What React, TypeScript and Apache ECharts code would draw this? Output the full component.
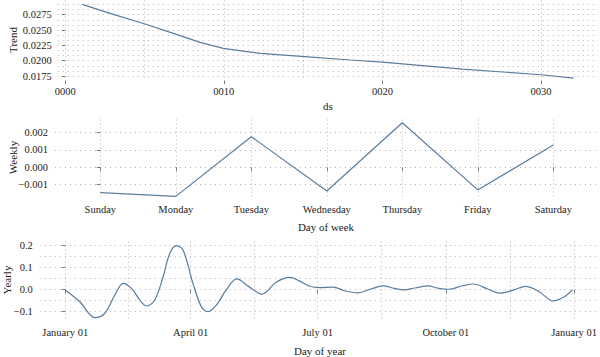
import { useEffect, useRef } from "react";
import * as echarts from "echarts";

// ---- Trend panel ----
const trendYears = [1.07, 2.82, 5.03, 6.81, 8.5, 9.97, 12.28, 14.9, 17.96, 20.0, 25.05, 30.0, 32.05];
const trendValues = [0.02919, 0.02773, 0.02598, 0.02446, 0.0230, 0.02202, 0.0212, 0.0207, 0.02011, 0.01978, 0.01864, 0.01771, 0.01717];
const trendXTicks = [0, 10, 20, 30];
const trendXMinor = [5, 15, 25];
const trendYTicks = [0.0175, 0.02, 0.0225, 0.025, 0.0275];
const trendYMinor = [0.018333, 0.019167, 0.020833, 0.021667, 0.023333, 0.024167, 0.025833, 0.026667, 0.028333, 0.029167];

// ---- Weekly panel ----
const weekDays = ["Sunday", "Monday", "Tuesday", "Wednesday", "Thursday", "Friday", "Saturday"];
const weeklyValues = [-0.00146, -0.00167, 0.00176, -0.00136, 0.00256, -0.0013, 0.00128];
const weeklyXTicks = [0, 1, 2, 3, 4, 5, 6];
const weeklyYTicks = [-0.001, 0, 0.001, 0.002];

// ---- Yearly panel ----
const yearDays = [0, 10.5, 21.3, 28.4, 35.6, 41.5, 47.5, 53.5, 58.3, 64.2, 70.2, 75, 79.7, 84.5, 91.6, 97.6, 102.4, 108.4, 115.5, 123, 131.7, 141, 151.3, 161, 168, 175, 182, 192, 201, 210, 219, 228, 236, 243, 251.5, 260, 268, 275, 285, 293, 303, 312, 322, 330, 340, 350, 358, 364];
const yearlyValues = [-0.001, -0.055, -0.127, -0.107, -0.024, 0.029, 0.006, -0.047, -0.074, -0.047, 0.059, 0.165, 0.2, 0.18, 0.029, -0.077, -0.1, -0.07, -0.001, 0.049, 0.014, -0.02, 0.034, 0.056, 0.04, 0.017, 0.009, 0.012, -0.006, -0.014, 0.003, 0.017, 0.006, -0.001, 0.009, 0.017, 0.006, 0.002, 0.018, 0.026, 0.003, -0.016, -0.001, 0.015, -0.009, -0.051, -0.032, 0.0];
const yearTickDays = [0, 90, 181, 273, 365];
const yearTickLabels = ["January 01", "April 01", "July 01", "October 01", "January 01"];
const yearMinorDays = [45, 135.5, 227, 319];
const yearlyYTicks = [-0.1, 0, 0.1, 0.2];
const yearlyYMinor = [-0.05, 0.05, 0.15];

const FONT = "'Liberation Serif', 'Times New Roman', serif";
const TEXT = "#222";
const LINE = "#5a7c9c";
const DOT = "#b4b4b4";
const minus = (s: string) => s.replace("-", "\u2212");

function mainAxis(gridIndex: number, min: number, max: number, ticks: number[], formatter: (v: number) => string, vertical: boolean, margin: number) {
  return {
    type: "value",
    gridIndex,
    min,
    max,
    axisLine: { show: false },
    axisTick: { show: true, length: 3.5, customValues: ticks, lineStyle: { color: "#777", width: 1 } },
    axisLabel: { customValues: ticks, formatter, margin, color: TEXT, fontFamily: FONT, fontSize: 10.5 },
    splitLine: { show: true, lineStyle: { color: DOT, width: 1, type: vertical ? [1, 3] : [1, 4] } },
  };
}

function minorAxis(gridIndex: number, min: number, max: number, ticks: number[], vertical: boolean) {
  return {
    type: "value",
    gridIndex,
    min,
    max,
    axisLine: { show: false },
    axisTick: { show: false, customValues: ticks },
    axisLabel: { show: false, customValues: ticks },
    splitLine: { show: true, lineStyle: { color: DOT, width: 1, type: vertical ? [1, 3] : [1, 4] } },
  };
}

function title(text: string, x: number, y: number, rotate: boolean) {
  return {
    type: "text",
    x,
    y,
    rotation: rotate ? Math.PI / 2 : 0,
    style: { text, fill: TEXT, font: `11px ${FONT}`, align: "center", verticalAlign: "middle" },
  };
}

export default function App() {
  const ref = useRef<HTMLDivElement>(null);
  useEffect(() => {
    if (!ref.current) return;
    const chart = echarts.init(ref.current, null, { renderer: "svg" });
    const option = {
      animation: false,
      backgroundColor: "#fff",
      textStyle: { fontFamily: FONT },
      grid: [
        { left: 57.7, top: 0.5, width: 540.3, height: 80 },
        { left: 55, top: 119.5, width: 543.6, height: 79 },
        { left: 39.8, top: 241.5, width: 560.2, height: 80 },
      ],
      xAxis: [
        mainAxis(0, -0.48, 33.6, trendXTicks, (v: number) => String(Math.round(v)).padStart(4, "0"), true, 5),
        minorAxis(0, -0.48, 33.6, trendXMinor, true),
        mainAxis(1, -0.6, 6.6, weeklyXTicks, (v: number) => weekDays[Math.round(v)], true, 5),
        mainAxis(2, -18.25, 382.75, yearTickDays, (v: number) => yearTickLabels[yearTickDays.indexOf(v)] ?? "", true, 5),
        minorAxis(2, -18.25, 382.75, yearMinorDays, true),
      ],
      yAxis: [
        mainAxis(0, 0.01677, 0.02982, trendYTicks, (v: number) => v.toFixed(4), false, 6),
        minorAxis(0, 0.01677, 0.02982, trendYMinor, false),
        mainAxis(1, -0.001793, 0.002747, weeklyYTicks, (v: number) => minus(v.toFixed(3)), false, 7),
        mainAxis(2, -0.1445, 0.219, yearlyYTicks, (v: number) => minus(v.toFixed(1)), false, 7),
        minorAxis(2, -0.1445, 0.219, yearlyYMinor, false),
      ],
      series: [
        {
          type: "line",
          xAxisIndex: 0,
          yAxisIndex: 0,
          symbol: "none",
          data: trendYears.map((x, i) => [x, trendValues[i]]),
          lineStyle: { color: LINE, width: 1.2 },
        },
        {
          type: "line",
          xAxisIndex: 2,
          yAxisIndex: 2,
          symbol: "none",
          data: weeklyXTicks.map((x, i) => [x, weeklyValues[i]]),
          lineStyle: { color: LINE, width: 1.2 },
        },
        {
          type: "line",
          xAxisIndex: 3,
          yAxisIndex: 3,
          symbol: "none",
          smooth: 0.35,
          data: yearDays.map((x, i) => [x, yearlyValues[i]]),
          lineStyle: { color: LINE, width: 1.2 },
        },
      ],
      graphic: [
        title("Trend", 12.7, 40, true),
        title("ds", 328, 106, false),
        title("Weekly", 13.3, 157.5, true),
        title("Day of week", 326, 226.5, false),
        title("Yearly", 6.5, 280, true),
        title("Day of year", 320, 350.5, false),
      ],
    };
    chart.setOption(option as any);
    return () => chart.dispose();
  }, []);
  return (
    <div
      ref={ref}
      style={{ position: "fixed", left: 0, top: 0, width: 600, height: 357, background: "#fff" }}
    />
  );
}
